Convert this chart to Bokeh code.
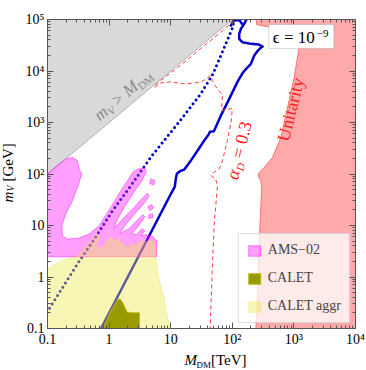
import math
from bokeh.plotting import figure
from bokeh.layouts import row, column
from bokeh.models import (Range1d, LogAxis, FixedTicker, Label, BoxAnnotation, Legend, LegendItem,
                          Plot)
from bokeh.embed import file_html
from bokeh.resources import INLINE

# ---------------- data ----------------
# axes: M_DM in TeV (x), m_V in GeV (y)
x_ticks = [0.1, 1, 10, 100, 1000, 10000]
x_tick_labels = ["0.1", "1", "10", "10²", "10³", "10⁴"]
y_ticks = [0.1, 1, 10, 100, 1000, 10000, 100000]
y_tick_labels = ["0.1", "1", "10", "10²", "10³", "10⁴", "10⁵"]

# kinematically forbidden region m_V > M_DM
kin_mdm = [0.1, 100, 0.1]
kin_mv = [100, 1e5, 1e5]

# contours, stored as log10(M_DM/TeV), log10(m_V/GeV)
unit_lx = [2.383, 2.399, 2.562, 2.952, 3.082, 3.005, 2.898, 2.790, 2.654, 2.518, 2.437, 2.420,
           2.464, 2.476, 2.437, 2.399, 2.383, 4.01, 4.01]
unit_ly = [5.01, 4.902, 4.863, 4.746, 4.429, 3.878, 3.295, 2.711, 2.323, 2.128, 2.031, 1.966,
           1.869, 1.740, 0.645, -0.657, -1.01, -1.01, 5.01]

ams_lx = [-1.01, -1.01, -0.975, -0.812, -0.703, -0.595, -0.513, -0.487, -0.443, -0.460, -0.513, -0.595,
          -0.703, -0.768, -0.757, -0.676, -0.487, -0.325, -0.162, 0.028, 0.190, 0.299, 0.390, 0.482,
          0.580, 0.604, 0.531, 0.417, 0.271, 0.141, 0.076,
          0.271, 0.434, 0.547, 0.621, 0.653, 0.564, 0.401, 0.255, 0.174,
          0.320, 0.450, 0.547, 0.580, 0.482, 0.369,
          0.450, 0.531, 0.580, 0.515,
          0.596, 0.705, 0.770, 0.775]
ams_ly = [0.393, 2.006, 2.031, 2.194, 2.292, 2.323, 2.258, 2.097, 2.000, 1.934, 1.740, 1.481,
          1.223, 0.995, 0.801, 0.737, 0.756, 0.834, 0.995, 1.351, 1.675, 1.870, 2.045, 2.103,
          2.122, 2.045, 1.870, 1.675, 1.403, 1.131, 0.937,
          1.190, 1.384, 1.539, 1.627, 1.578, 1.423, 1.209, 0.995, 0.840,
          0.937, 1.092, 1.209, 1.170, 0.995, 0.840,
          0.820, 0.937, 0.898, 0.801,
          0.820, 0.791, 0.704, 0.393]
ams_blob_lx = [[0.677, 0.742, 0.726, 0.661], [0.629, 0.694, 0.726, 0.661], [0.645, 0.710, 0.710, 0.645]]
ams_blob_ly = [[1.909, 1.870, 1.792, 1.811], [1.364, 1.403, 1.345, 1.287], [1.209, 1.228, 1.151, 1.131]]

aggr_lx = [-1.01, -1.01, -0.866, -0.676, -0.513, -0.395, -0.297, -0.200, -0.151, -0.216, -0.135, -0.037,
           0.028, 0.076, 0.158, 0.223, 0.304, 0.369, 0.450, 0.531, 0.612, 0.677, 0.742, 0.759,
           0.759, 0.786, 0.840, 0.893, 0.921, 0.975, 0.986]
aggr_ly = [-1.01, 0.159, 0.257, 0.354, 0.392, 0.568, 0.704, 0.840, 0.781, 0.606, 0.548, 0.704,
           0.781, 0.704, 0.743, 0.626, 0.568, 0.645, 0.626, 0.704, 0.684, 0.723, 0.665, 0.548,
           0.393, 0.082, -0.190, -0.398, -0.657, -0.910, -1.01]

calet_lx = [-0.102, 0.028, 0.125, 0.174, 0.223, 0.288, 0.353, 0.491, 0.491]
calet_ly = [-1.01, -0.657, -0.463, -0.424, -0.502, -0.677, -0.696, -0.696, -1.01]

solid_lx = [-0.135, 1.002, 1.067, 1.083, 1.100, 1.148, 1.218, 1.326, 1.424, 1.543, 1.620, 1.636,
            1.701, 1.814, 1.936, 2.086, 2.172, 2.248, 2.302, 2.355, 2.416, 2.448, 2.492, 2.432,
            2.302, 2.167, 2.112, 2.112, 2.139, 2.193, 2.237]
solid_ly = [-1.01, 1.611, 1.753, 1.909, 2.006, 2.054, 2.084, 2.259, 2.433, 2.647, 2.774, 2.822,
            2.832, 3.133, 3.425, 3.794, 3.969, 4.072, 4.138, 4.299, 4.396, 4.435, 4.474, 4.513,
            4.527, 4.558, 4.624, 4.721, 4.818, 4.915, 5.02]
hook_lx = [1.969, 2.009, 2.058, 2.123, 2.164]
hook_ly = [4.863, 4.960, 4.989, 4.979, 4.902]

dotted_lx = [-1.01, -0.513, -0.216, 0.055, 0.353, 0.677, 1.165, 1.490, 1.680, 1.814, 1.923, 2.005, 2.031]
dotted_ly = [-0.69, 0.257, 0.781, 1.287, 1.773, 2.327, 3.055, 3.561, 3.930, 4.299, 4.610, 4.843, 5.01]

alpha_lx = [2.03, 1.81, 1.49, 1.17, 0.92, 0.76, 0.73, 0.84, 1.00, 1.22, 1.49, 1.65, 1.68, 1.73, 1.84,
            1.83, 1.83, 1.92, 2.00, 1.98, 1.92, 1.84, 1.79, 1.70, 1.65, 1.73, 1.76, 1.71, 1.68, 1.64]
alpha_ly = [4.98, 4.75, 4.44, 4.12, 3.89, 3.74, 3.68, 3.77, 3.79, 3.75, 3.78, 3.91, 3.81, 3.70, 3.54,
            3.37, 3.23, 3.26, 3.27, 3.00, 2.65, 2.26, 2.10, 2.03, 1.97, 1.90, 1.77, 1.09, 0.32, -1.01]


def lin(v):
    return [10 ** a for a in v]


FONT = "Liberation Serif"
FW, FH = 308, 309          # frame size in px
PX_DEC_X = FW / 5.0        # px per decade
PX_DEC_Y = FH / 6.0
LEFT_W = 16                # strip holding the y-axis title
BOTTOM_H = 21              # strip holding the x-axis title
MAIN_W, MAIN_H = 366 - LEFT_W, 370 - BOTTOM_H
MID = 0.32                 # baseline -> text-middle distance, in font sizes

p = figure(width=MAIN_W, height=MAIN_H, x_axis_type="log", y_axis_type="log",
           x_range=Range1d(0.1, 1e4), y_range=Range1d(0.1, 1e5), title=None,
           min_border_left=47 - LEFT_W, min_border_right=11, min_border_top=19,
           min_border_bottom=MAIN_H - 19 - FH,
           output_backend="svg", toolbar_location=None)
p.grid.visible = False
p.outline_line_color = "#555555"
p.background_fill_color = "white"
p.border_fill_color = "white"

minor_x = [k * 10.0 ** d for d in range(-1, 4) for k in range(2, 10)]
minor_y = [k * 10.0 ** d for d in range(-1, 5) for k in range(2, 10)]

bottom_ax = p.below[0]
left_ax = p.left[0]
bottom_ax.ticker = FixedTicker(ticks=x_ticks, minor_ticks=minor_x)
left_ax.ticker = FixedTicker(ticks=y_ticks, minor_ticks=minor_y)
bottom_ax.major_label_overrides = dict(zip(x_ticks, x_tick_labels))
left_ax.major_label_overrides = dict(zip(y_ticks, y_tick_labels))

top_ax = LogAxis(ticker=FixedTicker(ticks=x_ticks, minor_ticks=minor_x))
right_ax = LogAxis(ticker=FixedTicker(ticks=y_ticks, minor_ticks=minor_y))
p.add_layout(top_ax, "above")
p.add_layout(right_ax, "right")
for ax in (top_ax, right_ax):
    ax.major_label_text_font_size = "1px"
    ax.major_label_text_alpha = 0
    ax.major_label_standoff = 0

for ax in (bottom_ax, left_ax, top_ax, right_ax):
    ax.major_tick_in = 6
    ax.major_tick_out = 0
    ax.minor_tick_in = 3
    ax.minor_tick_out = 0
    ax.major_tick_line_color = "#555555"
    ax.minor_tick_line_color = "#555555"
    ax.axis_line_color = "#555555"
    ax.major_label_text_font = FONT
    ax.major_label_text_color = "black"
for ax in (bottom_ax, left_ax):
    ax.major_label_text_font_size = "14px"
    ax.major_label_standoff = 3

# regions and lines
p.patch(kin_mdm, kin_mv, fill_color="#d9d9d9", line_color="#b0b0b0", line_width=1)
p.patch(lin(unit_lx), lin(unit_ly), fill_color="#ffaaaa", line_color="#ff7070", line_width=1)

p.line(lin(dotted_lx), lin(dotted_ly), line_color="#0000cc", line_width=3,
       line_dash="0 5", line_cap="round")
p.line(lin(solid_lx), lin(solid_ly), line_color="#0000cc", line_width=2.5, line_join="round")
p.line(lin(hook_lx), lin(hook_ly), line_color="#0000cc", line_width=2.5, line_join="round")
p.line(lin(alpha_lx), lin(alpha_ly), line_color="#ff3b3b", line_width=1, line_dash="4 3")

ams_xs = [lin(ams_lx)] + [lin(b) for b in ams_blob_lx]
ams_ys = [lin(ams_ly)] + [lin(b) for b in ams_blob_ly]
ams_r = p.patches(ams_xs, ams_ys, fill_color="#ff11ff", fill_alpha=0.4,
                  line_color="#ff00ff", line_alpha=0.45, line_width=1)
aggr_r = p.patch(lin(aggr_lx), lin(aggr_ly), fill_color="#eee944", fill_alpha=0.4,
                 line_color="#e6dc40", line_alpha=0.35, line_width=1)
calet_r = p.patch(lin(calet_lx), lin(calet_ly), fill_color="#999900", line_color="#b8b800", line_width=1)


def run(fig, sx, sy, theta_deg, pieces, color, units="frame"):
    """Place text runs along a direction; (sx, sy) is the baseline start, y up."""
    th = math.radians(theta_deg)
    c, s = math.cos(th), math.sin(th)
    for text, size, style, adv, drop in pieces:
        d = drop - MID * size            # anchor on the text middle, not the baseline
        X = sx + adv * c + d * s
        Y = sy + adv * s - d * c
        if units == "frame":      # px offsets from the main frame's bottom-left
            x, y = 10 ** (-1 + X / PX_DEC_X), 10 ** (-1 + Y / PX_DEC_Y)
        else:                     # px inside a strip figure
            x, y = X, Y
        fig.add_layout(Label(x=x, y=y, angle=th, text=text, text_font=FONT,
                             text_font_size=f"{size}px", text_font_style=style,
                             text_color=color, text_align="left", text_baseline="middle"))


def strip(w, h):
    return Plot(width=w, height=h, x_range=Range1d(0, w), y_range=Range1d(0, h), title=None,
                min_border=0, min_border_left=0, min_border_right=0, min_border_top=0,
                min_border_bottom=0, outline_line_color=None, background_fill_color="white",
                border_fill_color="white", output_backend="svg", toolbar_location=None)


p_left = strip(LEFT_W, 370)
p_bottom = strip(MAIN_W, BOTTOM_H)

# axis titles; strip coordinates: x from strip left, y up from strip bottom
run(p_bottom, 155.7, 6, 0, [("M", 15, "italic", 0, 0), ("DM", 9, "normal", 13.5, 3),
                            ("[TeV]", 15, "normal", 30, 0)], "black", "strip")
run(p_left, 12, 168, 90, [("m", 15, "italic", 0, 0), ("V", 10, "italic", 11, 1.5),
                          ("[GeV]", 15, "normal", 21, 0)], "black", "strip")

# region annotations
run(p, 52.3, 207, 40.2, [("m", 17, "italic", 0, 0), ("V", 11, "italic", 12.5, 3),
                         (">", 17, "normal", 23.5, 0), ("M", 17, "italic", 37.5, 0),
                         ("DM", 11, "normal", 52, 3)], "#8a8a8a")
run(p, 190, 148, 76, [("α", 18, "italic", 0, 0), ("D", 11, "italic", 10, 3),
                      ("= 0.3", 18, "normal", 22, 0)], "#ff2020")
p.add_layout(Label(x=243.3, y=219, x_units="screen", y_units="screen", angle=math.radians(76),
                   text="Unitarity", text_font=FONT, text_font_size="18px", text_color="#ff2020",
                   text_align="center", text_baseline="middle"))

# epsilon box
p.add_layout(BoxAnnotation(left=221.3, right=286.3, bottom=280, top=304,
                           left_units="screen", right_units="screen",
                           bottom_units="screen", top_units="screen",
                           fill_color="white", fill_alpha=1, line_color="#8c8c8c", line_width=1))
run(p, 225.3, 285.5, 0, [("ϵ = 10", 17, "normal", 0, 0), ("−9", 11, "normal", 44, -6)], "black")

legend = Legend(items=[LegendItem(label="AMS−02", renderers=[ams_r]),
                       LegendItem(label="CALET", renderers=[calet_r]),
                       LegendItem(label="CALET aggr", renderers=[aggr_r])],
                location="bottom_right", margin=5, padding=8, spacing=12,
                glyph_width=15, glyph_height=13, label_height=13, label_standoff=6,
                label_text_font=FONT, label_text_font_size="14px",
                background_fill_color="white", background_fill_alpha=0.75,
                border_line_color="#bbbbbb")
p.add_layout(legend)

page = row(p_left, column(p, p_bottom, spacing=0), spacing=0)
open("out.html", "w").write(file_html(page, INLINE))
